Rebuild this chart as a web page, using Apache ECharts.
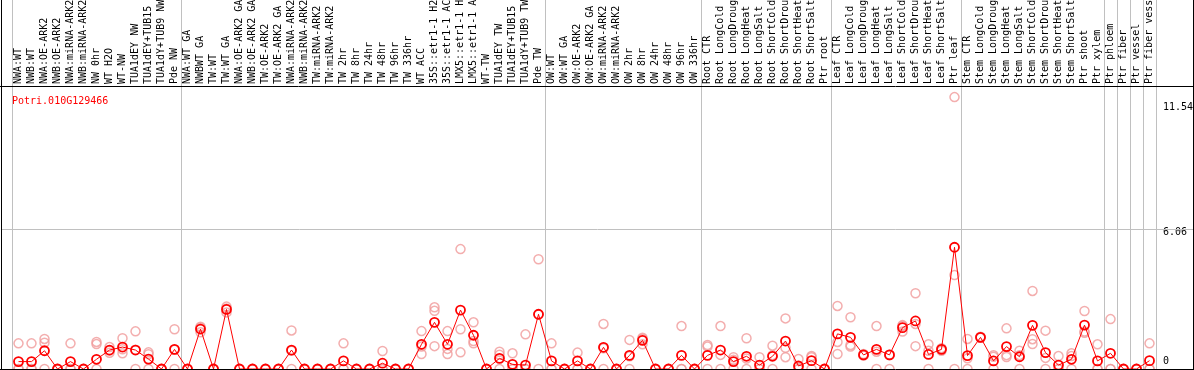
<!DOCTYPE html>
<html><head><meta charset="utf-8">
<script src="https://cdn.jsdelivr.net/npm/echarts@6/dist/echarts.min.js"></script>
<style>html,body{margin:0;padding:0;background:#fff}#c{width:1194px;height:370px}</style>
</head><body><div id="c"></div>
<script>
const geneId = 'Potri.010G129466';
const categories = [
  'NWA:WT','NWB:WT','NWA:OE-ARK2','NWB:OE-ARK2','NWA:miRNA-ARK2','NWB:miRNA-ARK2','NW 0hr','WT H2O','WT-NW','TUA1dEY NW','TUA1dEY+TUB15 NW','TUA1dY+TUB9 NW','Pde NW',
  'NWA:WT GA','NWBWT GA','TW:WT','TW:WT GA','NWA:OE-ARK2 GA','NWB:OE-ARK2 GA','TW:OE-ARK2','TW:OE-ARK2 GA','NWA:miRNA-ARK2','NWB:miRNA-ARK2','TW:miRNA-ARK2','TW:miRNA-ARK2',
  'TW 2hr','TW 8hr','TW 24hr','TW 48hr','TW 96hr','TW 336hr','WT ACC','35S::etr1-1 H2O','35S::etr1-1 ACC','LMX5::etr1-1 H2O','LMX5::etr1-1 ACC','WT-TW','TUA1dEY TW','TUA1dEY+TUB15 TW','TUA1dY+TUB9 TW','Pde TW',
  'OW:WT','OW:WT GA','OW:OE-ARK2','OW:OE-ARK2 GA','OW:miRNA-ARK2','OW:miRNA-ARK2','OW 2hr','OW 8hr','OW 24hr','OW 48hr','OW 96hr','OW 336hr',
  'Root CTR','Root LongCold','Root LongDrought','Root LongHeat','Root LongSalt','Root ShortCold','Root ShortDrought','Root ShortHeat','Root ShortSalt','Ptr root',
  'Leaf CTR','Leaf LongCold','Leaf LongDrought','Leaf LongHeat','Leaf LongSalt','Leaf ShortCold','Leaf ShortDrought','Leaf ShortHeat','Leaf ShortSalt','Ptr leaf',
  'Stem CTR','Stem LongCold','Stem LongDrought','Stem LongHeat','Stem LongSalt','Stem ShortCold','Stem ShortDrought','Stem ShortHeat','Stem ShortSalt','Ptr shoot',
  'Ptr xylem','Ptr phloem','Ptr fiber','Ptr vessel','Ptr fiber vessel'
];
const meanValues = [
  0.32,0.32,0.79,0,0.32,0,0.42,0.82,0.95,0.82,0.43,0,0.85,
  0,1.73,0,2.58,0,0,0,0,0.82,0,0,0,
  0.35,0,0,0.25,0,0,1.07,2.02,1.07,2.55,1.46,0,0.46,0.20,0.17,2.37,
  0.35,0,0.35,0,0.94,0,0.59,1.24,0,0,0.59,0,
  0.59,0.82,0.32,0.55,0.17,0.55,1.21,0.13,0.36,0,
  1.52,1.37,0.61,0.85,0.61,1.79,2.08,0.63,0.85,5.27,
  0.58,1.37,0.35,0.97,0.53,1.89,0.71,0.17,0.42,1.90,
  0.35,0.68,0,0,0.36
];
const rep1 = [
  1.11,1.11,1.30,0,1.11,0,1.17,0.95,1.33,1.63,0.72,0,1.72,
  0,1.83,0,2.70,0,0,0,0,1.67,0,0,0,
  1.11,0,0,0.78,0,0,1.64,2.67,1.64,5.19,2.02,0,0.75,0.68,1.50,4.75,
  1.11,0,0.71,0,1.95,0,1.26,1.07,0,0,1.86,0,
  1.04,1.86,0.51,1.33,0.51,1.01,2.19,0.43,0.56,0,
  2.73,2.24,0.65,1.86,0.62,1.86,3.28,1.07,0.79,11.77,
  1.30,1.40,0.60,1.76,0.79,3.38,1.66,0.56,0.68,2.51,
  1.07,2.16,0,0,1.11
];
const rep2 = [
  0,0,1.14,0,0,0,1.08,0.80,0.68,0.83,0.64,0,0.83,
  0,1.79,0,2.62,0,0,0,0,0.79,0,0,0,
  0,0,0,0,0,0,0.97,2.52,0.87,1.72,1.21,0,0.62,0,0,2.36,
  0,0,0,0,0.90,0,0.55,1.30,0,0,0,0,
  0.97,0.61,0.40,0.45,0,0.60,0.92,0,0.51,0,
  1.17,1.04,0.58,0.75,0.60,1.62,0.99,0.79,0.90,4.07,
  0.46,1.35,0.53,0.60,0.60,1.29,0.48,0,0.56,1.62,
  0,0,0,0,0
];
const rep3 = [
  0,0,0,0,0,0,0,0.70,0.85,0,0,0,0,
  0,1.59,0,2.45,0,0,0,0,0,0,0,0,
  0,0,0,0,0,0,0.65,0.99,0.65,0.72,1.11,0,0,0,0,0,
  0,0,0,0,0,0,0,1.35,0,0,0,0,
  0,0,0,0,0,0,0.51,0,0,0,
  0.65,0.97,0.60,0,0,1.90,1.95,0,0.87,0,
  0,1.37,0,0.52,0,1.08,0,0,0,1.57,
  0,0,0,0,0
];
const yTickLabels = [0, 6.06, 11.54];
const gridLineValue = 6.06;
const groupStarts = [0, 13, 41, 53, 63, 73, 84, 85, 86, 87];

const yMax = 12.25;
const mono = 'DejaVu Sans Mono';
const gray = '#c0c0c0';

const chart = echarts.init(document.getElementById('c'), null, {renderer: 'canvas'});
function repData(arr) {
  const out = [];
  arr.forEach((v, i) => { if (v !== null && v !== undefined) out.push([i, v]); });
  return out;
}
const repStyle = {
  type: 'scatter', symbol: 'circle', symbolSize: 9, silent: true, z: 2, clip: false,
  itemStyle: {color: 'rgba(255,255,255,0)', borderColor: '#f09a9a', borderWidth: 1.5}
};
chart.setOption({
  animation: false,
  title: {text: geneId, left: 7, top: 91, textStyle: {color: '#ff0000', fontSize: 10, fontFamily: mono, fontWeight: 'normal'}},
  grid: {left: 12, right: 38, top: 86, bottom: 1, containLabel: false, outerBoundsMode: 'none'},
  xAxis: {
    type: 'category', data: categories, position: 'top', boundaryGap: true,
    axisLine: {show: false}, axisTick: {show: false},
    axisLabel: {rotate: 90, interval: 0, margin: 2, hideOverlap: false, fontFamily: mono, fontSize: 10, color: '#000'},
    splitLine: {show: true, interval: (idx) => groupStarts.indexOf(idx) >= 0, lineStyle: {color: gray, width: 1}}
  },
  yAxis: {
    type: 'value', min: 0, max: yMax, position: 'right',
    axisLine: {show: false}, axisTick: {show: false}, splitLine: {show: false},
    axisLabel: {
      customValues: yTickLabels, margin: 7, fontFamily: mono, fontSize: 10, color: '#000',
      formatter: (v) => v === 0 ? '{z|0}' : (v > 10 ? '{a|' + v + '}' : '{b|' + v + '}'),
      rich: {
        z: {fontFamily: mono, fontSize: 10, color: '#000', padding: [0, 0, 15, 0]},
        a: {fontFamily: mono, fontSize: 10, color: '#000', padding: [10, 0, 0, 0]},
        b: {fontFamily: mono, fontSize: 10, color: '#000', padding: [6, 0, 0, 0]}
      }
    }
  },
  series: [
    Object.assign({data: repData(rep1)}, repStyle),
    Object.assign({data: repData(rep2)}, repStyle),
    Object.assign({data: repData(rep3)}, repStyle),
    {
      type: 'line', data: meanValues, symbol: 'circle', symbolSize: 9, showAllSymbol: true, clip: false, z: 3,
      itemStyle: {color: 'rgba(255,255,255,0)', borderColor: '#ff0000', borderWidth: 1.8},
      lineStyle: {color: '#ff0000', width: 1}
    }
  ]
});
const yLine = Math.round(chart.convertToPixel({yAxisIndex: 0}, gridLineValue)) + 0.5;
const c0 = chart.convertToPixel({xAxisIndex: 0}, 0);
const band = chart.convertToPixel({xAxisIndex: 0}, 1) - c0;
const upperLines = groupStarts.concat([categories.length]).map(function (k) {
  const x = Math.round(c0 - band / 2 + k * band) + 0.5;
  return {type: 'line', z: 1, shape: {x1: x, y1: 0, x2: x, y2: 86}, style: {stroke: gray, lineWidth: 1}};
});
chart.setOption({
  graphic: upperLines.concat([
    {type: 'line', z: 1, shape: {x1: 1, y1: yLine, x2: 1194, y2: yLine}, style: {stroke: gray, lineWidth: 1}},
    {type: 'line', z: 10, shape: {x1: 1.5, y1: 0, x2: 1.5, y2: 370}, style: {stroke: '#000', lineWidth: 1}},
    {type: 'line', z: 10, shape: {x1: 1193.5, y1: 0, x2: 1193.5, y2: 370}, style: {stroke: '#000', lineWidth: 1}},
    {type: 'line', z: 10, shape: {x1: 0, y1: 86.5, x2: 1194, y2: 86.5}, style: {stroke: '#000', lineWidth: 1}},
    {type: 'line', z: 10, shape: {x1: 0, y1: 369.5, x2: 1194, y2: 369.5}, style: {stroke: '#000', lineWidth: 1}}
  ])
});
</script></body></html>
